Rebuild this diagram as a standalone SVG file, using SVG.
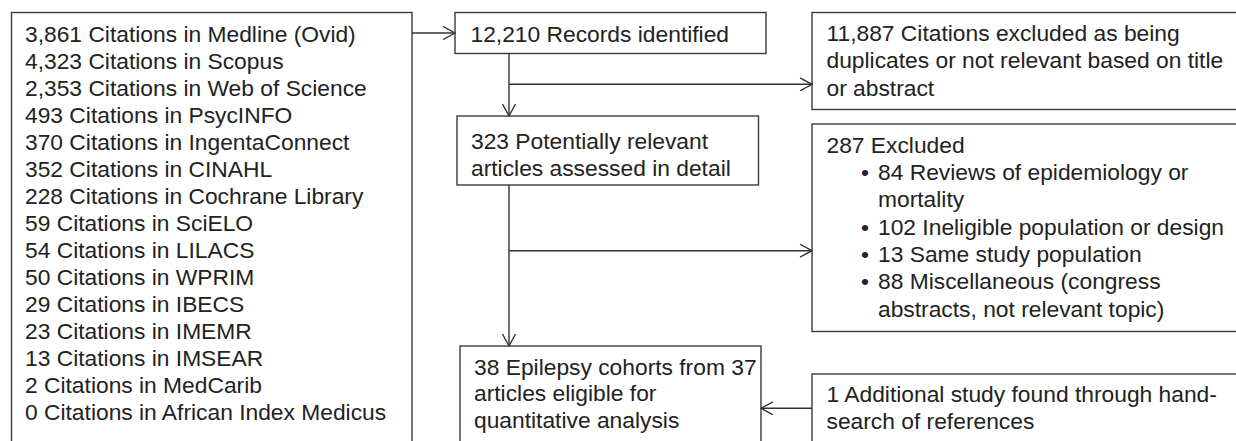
<svg xmlns="http://www.w3.org/2000/svg" width="1236" height="441" viewBox="0 0 1236 441">
<style>
.box{fill:#fff;stroke:#3a3a3a;stroke-width:1.4}
.t{font-family:"Liberation Sans",Arial,sans-serif;font-size:22.8px;fill:#222}
.c{fill:none;stroke:#333;stroke-width:1.4}
</style>
<defs>
<marker id="ah" viewBox="0 0 14 14" markerWidth="14" markerHeight="14" refX="13" refY="7" orient="auto" markerUnits="userSpaceOnUse">
<path d="M1,0.5 L13,7 L1,13.5" fill="none" stroke="#333" stroke-width="1.4"/>
</marker>
</defs>
<rect width="1236" height="441" fill="#fff"/>
<g id="sources">
<rect class="box" x="11.5" y="12.5" width="400.5" height="440"/>
<text class="t" x="25" y="41.5">3,861 Citations in Medline (Ovid)</text>
<text class="t" x="25" y="68.5">4,323 Citations in Scopus</text>
<text class="t" x="25" y="95.5">2,353 Citations in Web of Science</text>
<text class="t" x="25" y="122.5">493 Citations in PsycINFO</text>
<text class="t" x="25" y="149.5">370 Citations in IngentaConnect</text>
<text class="t" x="25" y="176.5">352 Citations in CINAHL</text>
<text class="t" x="25" y="203.5">228 Citations in Cochrane Library</text>
<text class="t" x="25" y="230.5">59 Citations in SciELO</text>
<text class="t" x="25" y="257.5">54 Citations in LILACS</text>
<text class="t" x="25" y="284.5">50 Citations in WPRIM</text>
<text class="t" x="25" y="311.5">29 Citations in IBECS</text>
<text class="t" x="25" y="338.5">23 Citations in IMEMR</text>
<text class="t" x="25" y="365.5">13 Citations in IMSEAR</text>
<text class="t" x="25" y="392.5">2 Citations in MedCarib</text>
<text class="t" x="25" y="419.5">0 Citations in African Index Medicus</text>
</g>
<g id="identified">
<rect class="box" x="455" y="12.5" width="311" height="41"/>
<text class="t" x="470.5" y="41.5">12,210 Records identified</text>
</g>
<g id="excluded1">
<rect class="box" x="812" y="12.5" width="430" height="97"/>
<text class="t" x="826.5" y="40.5">11,887 Citations excluded as being</text>
<text class="t" x="826.5" y="68">duplicates or not relevant based on title</text>
<text class="t" x="826.5" y="95.5">or abstract</text>
</g>
<g id="assessed">
<rect class="box" x="457" y="116" width="301.5" height="69"/>
<text class="t" x="471" y="149">323 Potentially relevant</text>
<text class="t" x="471" y="176">articles assessed in detail</text>
</g>
<g id="excluded2">
<rect class="box" x="812" y="124" width="430" height="207.5"/>
<text class="t" x="826.5" y="152.5">287 Excluded</text>
<text class="t" x="861" y="180">•</text>
<text class="t" x="878" y="180">84 Reviews of epidemiology or</text>
<text class="t" x="878" y="207.3">mortality</text>
<text class="t" x="861" y="234.6">•</text>
<text class="t" x="878" y="234.6">102 Ineligible population or design</text>
<text class="t" x="861" y="262">•</text>
<text class="t" x="878" y="262">13 Same study population</text>
<text class="t" x="861" y="289.3">•</text>
<text class="t" x="878" y="289.3">88 Miscellaneous (congress</text>
<text class="t" x="878" y="316.6">abstracts, not relevant topic)</text>
</g>
<g id="eligible">
<rect class="box" x="460" y="346" width="301" height="110"/>
<text class="t" x="474" y="374.5">38 Epilepsy cohorts from 37</text>
<text class="t" x="474" y="401">articles eligible for</text>
<text class="t" x="474" y="427.5">quantitative analysis</text>
</g>
<g id="handsearch">
<rect class="box" x="812" y="374" width="430" height="80"/>
<text class="t" x="826.5" y="401.5">1 Additional study found through hand-</text>
<text class="t" x="826.5" y="429">search of references</text>
</g>
<g id="connectors">
<line class="c" x1="412" y1="33" x2="455" y2="33" marker-end="url(#ah)"/>
<line class="c" x1="509" y1="53.5" x2="509" y2="116" marker-end="url(#ah)"/>
<line class="c" x1="509" y1="84.3" x2="812" y2="84.3" marker-end="url(#ah)"/>
<line class="c" x1="509" y1="185" x2="509" y2="346" marker-end="url(#ah)"/>
<line class="c" x1="509" y1="250.7" x2="812" y2="250.7" marker-end="url(#ah)"/>
<line class="c" x1="812" y1="408.3" x2="761" y2="408.3" marker-end="url(#ah)"/>
</g>
</svg>
